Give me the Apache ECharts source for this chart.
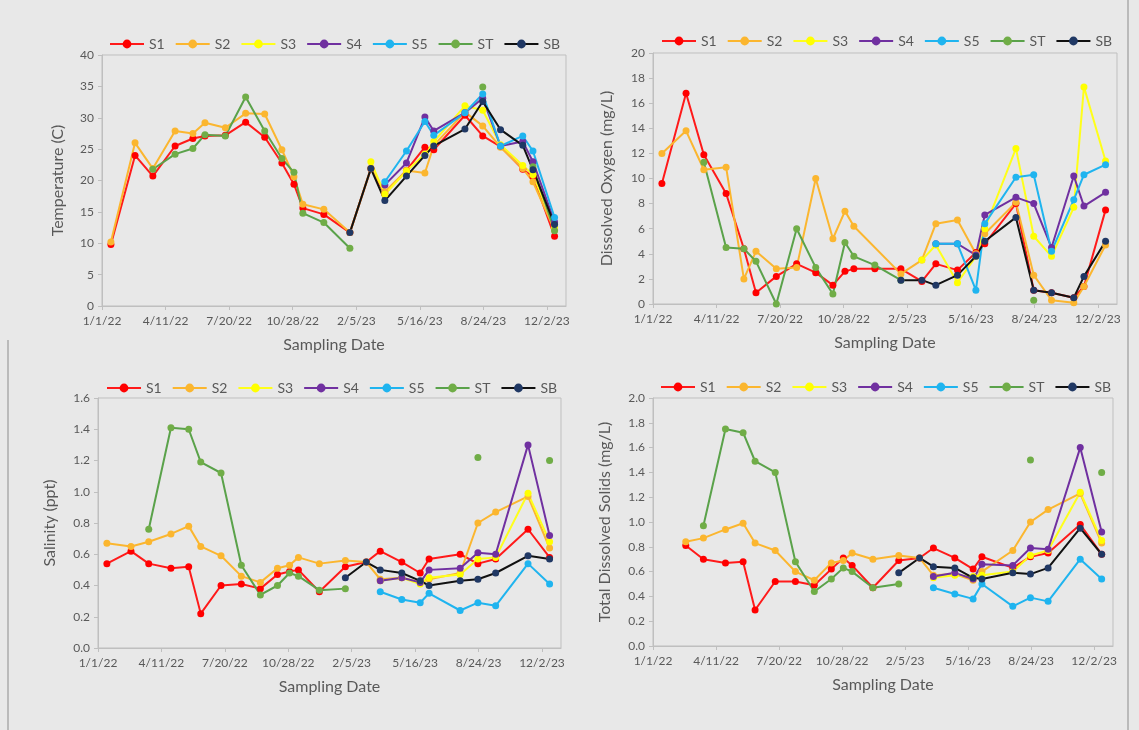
<!DOCTYPE html>
<html>
<head>
<meta charset="utf-8">
<script src="https://cdn.jsdelivr.net/npm/echarts@6.0.0/dist/echarts.min.js"></script>
<style>
  html, body { margin: 0; padding: 0; background: #e8e8e8; }
  #chart { width: 1139px; height: 730px; }
</style>
</head>
<body>
<div id="chart"></div>
<script>
// sampling dates, as days after 1/1/22
const daysTD = [14, 52, 80, 115, 143, 162, 194, 226, 256, 283, 302, 316, 349, 390, 423, 445, 479, 508, 522, 571, 599, 627, 662, 678, 712];
const daysSal = [14, 52, 80, 115, 143, 162, 194, 226, 256, 283, 302, 316, 349, 390, 423, 445, 479, 508, 522, 571, 599, 627, 678, 712];

const siteNames = ['S1', 'S2', 'S3', 'S4', 'S5', 'ST', 'SB'];

// Temperature (C)
const tempS1 = [9.8, 24.0, 20.7, 25.5, 26.7, 27.1, 27.2, 29.3, 26.9, 22.8, 19.4, 15.6, 14.6, 11.7, 21.9, 17.9, 21.6, 25.3, 24.9, 30.4, 27.1, 25.4, 21.8, 20.6, 11.1];
const tempS2 = [10.2, 26.0, 21.9, 27.9, 27.5, 29.2, 28.4, 30.7, 30.6, 24.9, 20.6, 16.2, 15.4, 11.7, 21.9, 18.2, 21.6, 21.2, 25.6, 30.9, 28.7, 25.3, 21.9, 19.8, 12.1];
const tempS3 = [null, null, null, null, null, null, null, null, null, null, null, null, null, null, 23.0, 17.8, 21.5, 24.2, 26.2, 31.9, 31.2, 25.7, 22.4, 20.9, 12.6];
const tempS4 = [null, null, null, null, null, null, null, null, null, null, null, null, null, null, null, 19.3, 22.8, 30.1, 27.9, 30.8, 33.1, 25.5, 26.2, 23.0, 13.4];
const tempS5 = [null, null, null, null, null, null, null, null, null, null, null, null, null, null, null, 19.8, 24.7, 29.4, 27.2, 30.8, 33.8, 25.5, 27.1, 24.7, 14.1];
const tempST = [null, null, 21.8, 24.2, 25.1, 27.3, 27.1, 33.3, 27.9, 23.5, 21.3, 14.8, 13.3, 9.2, null, null, null, null, null, null, 34.9, null, null, 22.2, 12.0];
const tempSB = [null, null, null, null, null, null, null, null, null, null, null, null, null, 11.7, 21.9, 16.8, 20.7, 24.0, 25.5, 28.2, 32.6, 28.1, 25.6, 21.7, 13.0];

// Dissolved Oxygen (mg/L)
const doS1 = [9.6, 16.8, 11.9, 8.8, 4.4, 0.9, 2.2, 3.2, 2.5, 1.5, 2.6, 2.8, 2.8, 2.8, 1.8, 3.2, 2.7, 4.1, 4.8, 8.0, 1.1, 0.9, 0.5, 1.4, 7.5];
const doS2 = [12.0, 13.8, 10.7, 10.9, 2.0, 4.2, 2.8, 2.9, 10.0, 5.2, 7.4, 6.2, null, 2.4, 3.5, 6.4, 6.7, 4.0, 5.6, 8.1, 2.3, 0.3, 0.1, 1.4, 4.7];
const doS3 = [null, null, null, null, null, null, null, null, null, null, null, null, null, null, 3.5, 4.7, 1.7, 3.8, 6.0, 12.4, 5.4, 3.8, 7.7, 17.3, 11.4];
const doS4 = [null, null, null, null, null, null, null, null, null, null, null, null, null, null, null, 4.8, 4.8, 3.9, 7.1, 8.5, 8.0, 4.5, 10.2, 7.8, 8.9];
const doS5 = [null, null, null, null, null, null, null, null, null, null, null, null, null, null, null, 4.8, 4.8, 1.1, 6.4, 10.1, 10.3, 4.2, 8.3, 10.3, 11.1];
const doST = [null, null, 11.3, 4.5, 4.4, 3.4, 0.0, 6.0, 2.9, 0.8, 4.9, 3.8, 3.1, 1.9, null, null, null, null, null, null, 0.3, null, null, null, null];
const doSB = [null, null, null, null, null, null, null, null, null, null, null, null, null, 1.9, 1.9, 1.5, 2.3, 3.8, 5.0, 6.9, 1.1, 0.9, 0.5, 2.2, 5.0];

// Salinity (ppt)
const salS1 = [0.54, 0.62, 0.54, 0.51, 0.52, 0.22, 0.40, 0.41, 0.38, 0.47, 0.49, 0.50, 0.36, 0.52, 0.55, 0.62, 0.55, 0.48, 0.57, 0.60, 0.54, 0.57, 0.76, 0.58];
const salS2 = [0.67, 0.65, 0.68, 0.73, 0.78, 0.65, 0.59, 0.46, 0.42, 0.51, 0.53, 0.58, 0.54, 0.56, 0.55, 0.44, 0.45, 0.42, 0.44, 0.48, 0.80, 0.87, 0.97, 0.64];
const salS3 = [null, null, null, null, null, null, null, null, null, null, null, null, null, null, null, 0.43, 0.45, 0.41, 0.45, 0.47, 0.57, 0.58, 0.99, 0.68];
const salS4 = [null, null, null, null, null, null, null, null, null, null, null, null, null, null, null, 0.43, 0.45, 0.42, 0.50, 0.51, 0.61, 0.60, 1.30, 0.72];
const salS5 = [null, null, null, null, null, null, null, null, null, null, null, null, null, null, null, 0.36, 0.31, 0.29, 0.35, 0.24, 0.29, 0.27, 0.54, 0.41];
const salST = [null, null, 0.76, 1.41, 1.40, 1.19, 1.12, 0.53, 0.34, 0.40, 0.48, 0.46, 0.37, 0.38, null, null, null, null, null, null, 1.22, null, null, 1.20];
const salSB = [null, null, null, null, null, null, null, null, null, null, null, null, null, 0.45, 0.55, 0.50, 0.48, 0.43, 0.40, 0.43, 0.44, 0.48, 0.59, 0.57];

// Total Dissolved Solids (mg/L)
const tdsS1 = [null, 0.81, 0.70, 0.67, 0.68, 0.29, 0.52, 0.52, 0.49, 0.62, 0.71, 0.65, 0.47, 0.69, 0.71, 0.79, 0.71, 0.62, 0.72, 0.63, 0.72, 0.75, 0.98, 0.74];
const tdsS2 = [null, 0.84, 0.87, 0.94, 0.99, 0.83, 0.77, 0.60, 0.53, 0.67, 0.69, 0.75, 0.70, 0.73, 0.71, 0.57, 0.58, 0.53, 0.60, 0.77, 1.00, 1.10, 1.23, 0.83];
const tdsS3 = [null, null, null, null, null, null, null, null, null, null, null, null, null, null, null, 0.55, 0.57, 0.56, 0.57, 0.60, 0.73, 0.77, 1.24, 0.85];
const tdsS4 = [null, null, null, null, null, null, null, null, null, null, null, null, null, null, null, 0.56, 0.59, 0.54, 0.66, 0.65, 0.79, 0.78, 1.60, 0.92];
const tdsS5 = [null, null, null, null, null, null, null, null, null, null, null, null, null, null, null, 0.47, 0.42, 0.38, 0.50, 0.32, 0.39, 0.36, 0.70, 0.54];
const tdsST = [null, null, 0.97, 1.75, 1.72, 1.49, 1.40, 0.68, 0.44, 0.54, 0.63, 0.60, 0.47, 0.50, null, null, null, null, null, null, 1.50, null, null, 1.40];
const tdsSB = [null, null, null, null, null, null, null, null, null, null, null, null, null, 0.59, 0.71, 0.64, 0.63, 0.55, 0.54, 0.59, 0.58, 0.63, 0.95, 0.74];

const lineColors = ['#ff1a1a', '#fbb62f', '#ffff1a', '#7030a0', '#1fb4ef', '#5aa24a', '#111111'];
const dotColors = ['#ff0000', '#fbb62f', '#ffff00', '#7030a0', '#1fb4ef', '#70ad47', '#203864'];

const panels = [
  { days: daysTD, sets: [tempS1, tempS2, tempS3, tempS4, tempS5, tempST, tempSB], yName: 'Temperature (C)', max: 40, step: 5, digits: 0, gap: 36,
    grid: { left: 102, top: 55, width: 464, height: 251 }, legend: { left: 104, top: 32 } },
  { days: daysTD, sets: [doS1, doS2, doS3, doS4, doS5, doST, doSB], yName: 'Dissolved Oxygen (mg/L)', max: 20, step: 2, digits: 0, gap: 38,
    grid: { left: 653, top: 53, width: 464, height: 251 }, legend: { left: 656, top: 29 } },
  { days: daysSal, sets: [salS1, salS2, salS3, salS4, salS5, salST, salSB], yName: 'Salinity (ppt)', max: 1.6, step: 0.2, digits: 1, gap: 40,
    grid: { left: 98, top: 398, width: 463, height: 250 }, legend: { left: 101, top: 376 } },
  { days: daysSal, sets: [tdsS1, tdsS2, tdsS3, tdsS4, tdsS5, tdsST, tdsSB], yName: 'Total Dissolved Solids (mg/L)', max: 2.0, step: 0.2, digits: 1, gap: 40,
    grid: { left: 653, top: 398, width: 460, height: 248 }, legend: { left: 655, top: 375 } },
];

const textColor = '#595959';
const axisColor = '#bfbfbf';
const fontFamily = 'Lato, "Open Sans", sans-serif';

function dayLabel(v) {
  const d = new Date(2022, 0, 1 + v);
  return (d.getMonth() + 1) + '/' + d.getDate() + '/' + String(d.getFullYear()).slice(2);
}

// ST has real breaks in its record, the other sites just skip dates
function points(days, vals, keepGaps) {
  const out = [];
  days.forEach((d, i) => {
    if (vals[i] == null) {
      if (keepGaps) out.push([d, null]);
    } else {
      out.push([d, vals[i]]);
    }
  });
  return out;
}

const chart = echarts.init(document.getElementById('chart'));

const grids = [], xAxes = [], yAxes = [], legends = [], series = [];

panels.forEach((p, k) => {
  grids.push(Object.assign({ show: true, borderColor: axisColor, borderWidth: 1, backgroundColor: 'transparent' }, p.grid));

  xAxes.push({
    type: 'value', gridIndex: k, min: 0, max: 730, interval: 100,
    name: 'Sampling Date', nameLocation: 'middle', nameGap: 31,
    nameTextStyle: { color: textColor, fontSize: 16, fontFamily },
    axisLine: { show: true, lineStyle: { color: axisColor } },
    axisTick: { show: true, length: 4, lineStyle: { color: axisColor } },
    splitLine: { show: false },
    axisLabel: { color: textColor, fontSize: 12, fontFamily, margin: 9, showMaxLabel: false, formatter: dayLabel },
  });

  yAxes.push({
    type: 'value', gridIndex: k, min: 0, max: p.max, interval: p.step,
    name: p.yName, nameLocation: 'middle', nameGap: p.gap,
    nameTextStyle: { color: textColor, fontSize: 16, fontFamily },
    axisLine: { show: true, lineStyle: { color: axisColor } },
    axisTick: { show: true, length: 4, lineStyle: { color: axisColor } },
    splitLine: { show: false },
    axisLabel: { color: textColor, fontSize: 12, fontFamily, margin: 8, formatter: v => v.toFixed(p.digits) },
  });

  legends.push({
    data: siteNames, left: p.legend.left, top: p.legend.top,
    itemWidth: 34, itemHeight: 11, itemGap: 10,
    textStyle: { color: textColor, fontSize: 14, fontFamily },
  });

  p.sets.forEach((vals, i) => {
    series.push({
      name: siteNames[i], type: 'line', xAxisIndex: k, yAxisIndex: k,
      data: points(p.days, vals, siteNames[i] === 'ST'),
      connectNulls: false,
      symbol: 'circle', symbolSize: 7, showSymbol: true,
      lineStyle: { color: lineColors[i], width: 2 },
      itemStyle: { color: dotColors[i] },
      emphasis: { disabled: true },
      animation: false,
    });
  });
});

chart.setOption({
  backgroundColor: '#e8e8e8',
  animation: false,
  grid: grids,
  xAxis: xAxes,
  yAxis: yAxes,
  legend: legends,
  series: series,
  graphic: [
    { type: 'line', shape: { x1: 1128, y1: 0, x2: 1128, y2: 730 }, style: { stroke: '#8c8c8c', lineWidth: 1 } },
    { type: 'line', shape: { x1: 8, y1: 340, x2: 8, y2: 730 }, style: { stroke: '#8c8c8c', lineWidth: 1 } },
  ],
});
</script>
</body>
</html>
